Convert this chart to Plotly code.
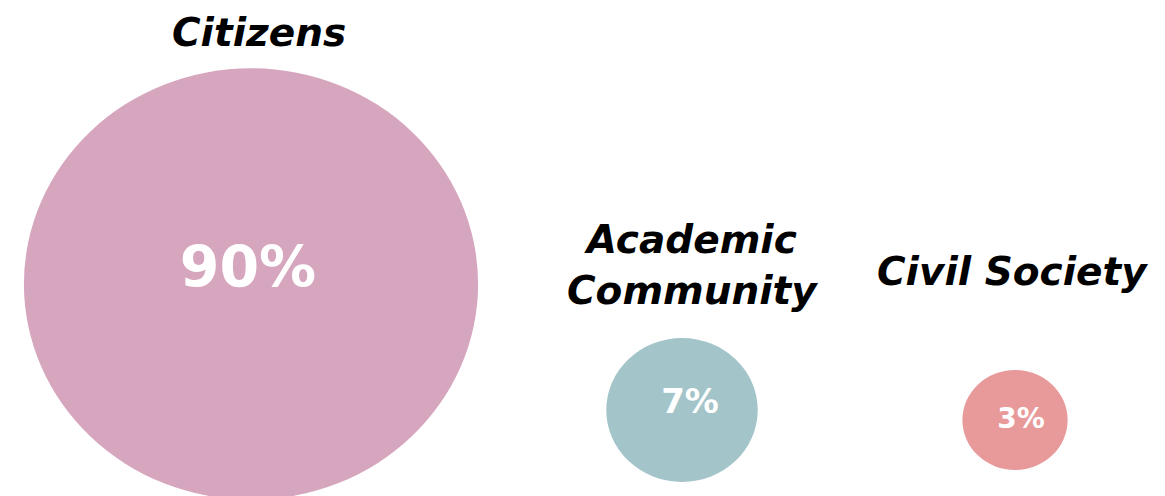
import plotly.graph_objects as go

# Share of contributions by stakeholder group
groups = ["Citizens", "Academic<br>Community", "Civil Society"]
shares = [90, 7, 3]
share_labels = ["90%", "7%", "3%"]

# Layout: bubble centres, label offsets and name positions in canvas units (pixels)
centres_x = [251, 682, 1015]
centres_y = [284, 410, 420]
pct_dx = [-3, 8, 6]
pct_dy = [-11, -6, 1]
name_y = [32, 265, 271]
name_x = [259, 692, 1012]
colors = ["#D6A5BE", "#A3C4C9", "#E89A9A"]
pct_sizes = [57, 34, 28]

W, H = 1165, 496
ASPECT = 0.95  # vertical squash of the bubbles


def radius(v):
    return 32.8 * v ** 0.43


fig = go.Figure()

shapes = []
for cx, cy, v, c in zip(centres_x, centres_y, shares, colors):
    rx = radius(v)
    ry = rx * ASPECT
    shapes.append(dict(type="circle", xref="x", yref="y",
                       x0=cx - rx, x1=cx + rx, y0=cy - ry, y1=cy + ry,
                       fillcolor=c, line=dict(width=0), layer="below"))

fig.add_trace(go.Scatter(
    x=[cx + d for cx, d in zip(centres_x, pct_dx)],
    y=[cy + d for cy, d in zip(centres_y, pct_dy)],
    mode="text", text=share_labels,
    textfont=dict(family="DejaVu Sans", color="white", size=pct_sizes,
                  weight="bold"),
    hoverinfo="skip", showlegend=False))

annotations = []
for g, x, y in zip(groups, name_x, name_y):
    annotations.append(dict(x=x, y=y, xref="x", yref="y", text=g,
                            showarrow=False, xanchor="center", yanchor="middle",
                            font=dict(family="DejaVu Sans", size=39, color="black",
                                      weight="bold", style="italic")))

fig.update_layout(
    width=W, height=H,
    margin=dict(l=0, r=0, t=0, b=0),
    paper_bgcolor="white", plot_bgcolor="white",
    shapes=shapes, annotations=annotations,
    xaxis=dict(range=[0, W], visible=False, fixedrange=True),
    yaxis=dict(range=[H, 0], visible=False, fixedrange=True),
)

fig.write_html("out.html", config={"displayModeBar": False})
